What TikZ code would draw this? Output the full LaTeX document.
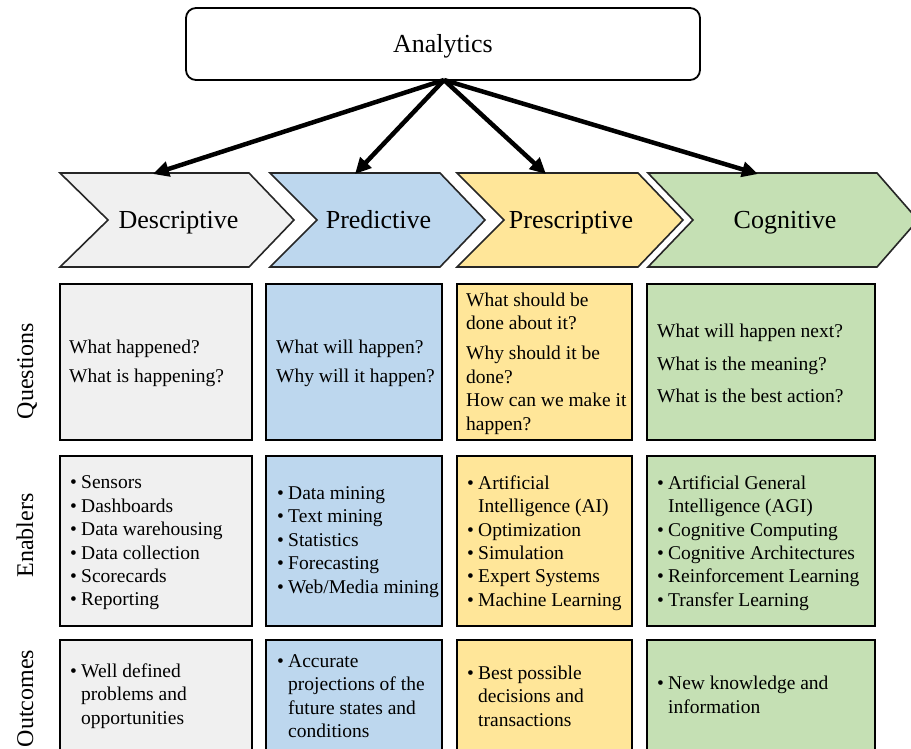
\documentclass[tikz,border=0pt]{standalone}
\usepackage{fontspec}
\setmainfont{Liberation Serif}
\usetikzlibrary{arrows.meta, positioning}

\definecolor{descfill}{HTML}{F0F0F0}
\definecolor{predfill}{HTML}{BDD7EE}
\definecolor{presfill}{HTML}{FFE699}
\definecolor{cogfill}{HTML}{C5E0B4}

% bullet and hanging indent for the list cells
\newcommand{\bul}{\makebox[11pt][l]{\textbullet}}
\newcommand{\ind}{\hspace*{11pt}}

\begin{document}
\begin{tikzpicture}[x=1pt, y=-1pt,
  chev/.style={draw=black!85, line width=1.6pt, line join=miter},
  cell/.style={draw=black, line width=2.6pt},
  celltext/.style={anchor=west, align=left, inner sep=0pt, font=\fontsize{19.5}{23.4}\selectfont},
  bigtext/.style={anchor=base, inner sep=0pt, font=\fontsize{26}{30}\selectfont},
  rowlabel/.style={rotate=90, anchor=base, font=\fontsize{24}{28}\selectfont},
  link/.style={line width=4.5pt, -{Triangle[length=16pt, width=15pt]}}]
  \useasboundingbox (0,0) rectangle (911,749);
  \clip (0,0) rectangle (911,749);

  % Analytics box
  \draw[rounded corners=10pt, line width=1.8pt] (186,8) rectangle (700,80);
  \node[bigtext] (analytics) at (443,53) {Analytics};
  \coordinate (root) at (444,80);

  % chevrons
  \draw[chev, fill=descfill] (60,173) -- (249,173) -- (294,220) -- (249,267)
    -- (60,267) -- (108,220) -- cycle;
  \node[bigtext] (desc) at (178.5,229) {Descriptive};
  \draw[chev, fill=predfill] (270,173) -- (440,173) -- (485,220) -- (440,267)
    -- (270,267) -- (317,220) -- cycle;
  \node[bigtext] (pred) at (378.5,229) {Predictive};
  \draw[chev, fill=presfill] (457,173) -- (638,173) -- (683,220) -- (638,267)
    -- (457,267) -- (504,220) -- cycle;
  \node[bigtext] (pres) at (571,229) {Prescriptive};
  \draw[chev, fill=cogfill] (648,173) -- (877,173) -- (918,220) -- (877,267)
    -- (648,267) -- (693,220) -- cycle;
  \node[bigtext] (cog) at (785,229) {Cognitive};

  % arrows into the chevrons
  \coordinate (descin) at (153,174);
  \coordinate (predin) at (355,174);
  \coordinate (presin) at (546,174);
  \coordinate (cogin) at (758,174);
  \draw[link] (root) -- (descin);
  \draw[link] (root) -- (predin);
  \draw[link] (root) -- (presin);
  \draw[link] (root) -- (cogin);

  % row labels
  \node[rowlabel] (qlabel) at (33,371) {Questions};
  \node[rowlabel] (elabel) at (33,535.5) {Enablers};
  \node[rowlabel] (olabel) at (33,698.5) {Outcomes};

  % Questions row
  \draw[cell, fill=descfill] (60,284) rectangle (252,440);
  \draw[cell, fill=predfill] (266,284) rectangle (442,440);
  \draw[cell, fill=presfill] (457,284) rectangle (632,440);
  \draw[cell, fill=cogfill] (647,284) rectangle (875,440);
  \node[celltext] (descq) at (69,363.5) {What happened?\\[5.7pt] What is happening?};
  \node[celltext] (predq) at (276,363.5) {What will happen?\\[5.7pt] Why will it happen?};
  \node[celltext] (presq) at (466,363.5) {What should be\\ done about it?\\[7pt]
    Why should it be\\ done?\\ How can we make it\\ happen?};
  \node[celltext] (cogq) at (657,363.5) {What will happen next?\\[9pt]
    What is the meaning?\\[9pt] What is the best action?};

  % Enablers row
  \draw[cell, fill=descfill] (60,456) rectangle (252,626);
  \draw[cell, fill=predfill] (266,456) rectangle (442,626);
  \draw[cell, fill=presfill] (457,456) rectangle (632,626);
  \draw[cell, fill=cogfill] (647,456) rectangle (875,626);
  \node[celltext] (desce) at (70,543) {\bul Sensors\\ \bul Dashboards\\
    \bul Data warehousing\\ \bul Data collection\\ \bul Scorecards\\ \bul Reporting};
  \node[celltext] (prede) at (277,542) {\bul Data mining\\ \bul Text mining\\
    \bul Statistics\\ \bul Forecasting\\ \bul Web/Media mining};
  \node[celltext] (prese) at (467,543) {\bul Artificial\\ \ind Intelligence (AI)\\
    \bul Optimization\\ \bul Simulation\\ \bul Expert Systems\\ \bul Machine Learning};
  \node[celltext] (coge) at (657,543) {\bul Artificial General\\ \ind Intelligence (AGI)\\
    \bul Cognitive Computing\\ \bul Cognitive Architectures\\
    \bul Reinforcement Learning\\ \bul Transfer Learning};

  % Outcomes row
  \draw[cell, fill=descfill] (60,640) rectangle (252,770);
  \draw[cell, fill=predfill] (266,640) rectangle (442,770);
  \draw[cell, fill=presfill] (457,640) rectangle (632,770);
  \draw[cell, fill=cogfill] (647,640) rectangle (875,770);
  \node[celltext] (desco) at (70,696) {\bul Well defined\\ \ind problems and\\ \ind opportunities};
  \node[celltext] (predo) at (277,696) {\bul Accurate\\ \ind projections of the\\
    \ind future states and\\ \ind conditions};
  \node[celltext] (preso) at (467,696) {\bul Best possible\\ \ind decisions and\\ \ind transactions};
  \node[celltext] (cogo) at (657,695) {\bul New knowledge and\\ \ind information};
\end{tikzpicture}
\end{document}
